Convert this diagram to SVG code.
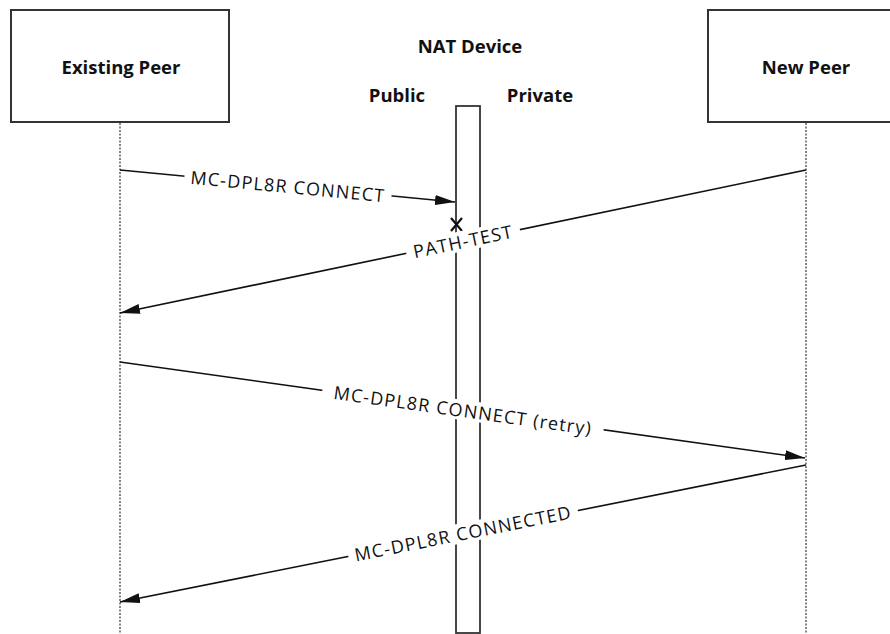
<svg xmlns="http://www.w3.org/2000/svg" width="890" height="634" viewBox="0 0 890 634">
<style>
.box{fill:#fff;stroke:#333;stroke-width:2}
.life{stroke:#444;stroke-width:1.3;stroke-dasharray:2 1.5;fill:none}
.msg{stroke:#111;stroke-width:1.6;fill:none;marker-end:url(#ah)}
.title{font-family:"Open Sans","Noto Sans",sans-serif;font-weight:bold;font-size:18.5px;fill:#111;text-anchor:middle}
.lbl{font-family:"Open Sans","Noto Sans",sans-serif;font-size:18px;letter-spacing:1.2px;fill:#111;text-anchor:middle;dominant-baseline:central}
.bg{fill:#fff}
</style>
<defs>
<marker id="ah" viewBox="0 0 20 10" refX="20" refY="5" markerWidth="20" markerHeight="10" markerUnits="userSpaceOnUse" orient="auto">
<path d="M0,0 L20,5 L0,10 Z" fill="#111"/>
</marker>
</defs>
<g id="existing-peer">
<rect class="box" x="11" y="10" width="218" height="112"/>
<text class="title" x="121" y="74">Existing Peer</text>
<line class="life" x1="120" y1="123" x2="120" y2="634"/>
</g>
<g id="new-peer">
<rect class="box" x="708" y="10" width="200" height="112"/>
<text class="title" x="806" y="74">New Peer</text>
<line class="life" x1="806" y1="123" x2="806" y2="634"/>
</g>
<g id="nat-device">
<text class="title" x="470" y="53">NAT Device</text>
<text class="title" x="397" y="102">Public</text>
<text class="title" x="540" y="102">Private</text>
<rect x="456" y="106" width="24" height="527" fill="#fff" stroke="#333" stroke-width="1.8"/>
</g>
<g id="connectors">
<line class="msg" x1="120" y1="170" x2="455" y2="202"/>
<path d="M451,218 L462,231 M462,218 L451,231" stroke="#111" stroke-width="2.2" fill="none"/>
<line class="msg" x1="806" y1="170" x2="120" y2="313"/>
<line class="msg" x1="120" y1="362" x2="805" y2="458"/>
<line class="msg" x1="806" y1="465" x2="120" y2="602"/>
<g transform="translate(288,186) rotate(5.46)">
<rect class="bg" x="-104" y="-10" width="208" height="20"/>
<text class="lbl" x="0" y="0">MC-DPL8R CONNECT</text>
</g>
<g transform="translate(463,241) rotate(-11.78)">
<rect class="bg" x="-58" y="-10" width="116" height="20"/>
<text class="lbl" x="0" y="0">PATH-TEST</text>
</g>
<g transform="translate(463,410) rotate(7.97)">
<rect class="bg" x="-142" y="-10" width="284" height="20"/>
<text class="lbl" x="0" y="0">MC-DPL8R CONNECT (retry)</text>
</g>
<g transform="translate(463,533) rotate(-11.3)">
<rect class="bg" x="-117" y="-10" width="234" height="20"/>
<text class="lbl" x="0" y="0">MC-DPL8R CONNECTED</text>
</g>
</g>
</svg>
